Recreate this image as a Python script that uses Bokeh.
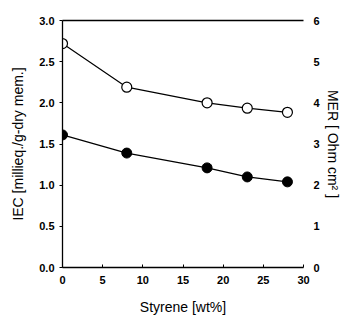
from bokeh.plotting import figure
from bokeh.models import LinearAxis, Range1d, FixedTicker, CustomJSTickFormatter
from bokeh.embed import file_html
from bokeh.resources import INLINE

styrene = [0, 8, 18, 23, 28]
iec = [1.61, 1.39, 1.21, 1.10, 1.04]
mer = [5.44, 4.38, 4.0, 3.87, 3.77]
x_ticks = [0, 5, 10, 15, 20, 25, 30]
iec_ticks = [0.0, 0.5, 1.0, 1.5, 2.0, 2.5, 3.0]
mer_ticks = [0, 1, 2, 3, 4, 5, 6]

FONT = "Liberation Sans"

p = figure(width=343, height=317, output_backend="svg", toolbar_location=None,
           x_range=Range1d(0, 30), y_range=Range1d(0, 3.0),
           min_border_left=62, min_border_right=38, min_border_top=20, min_border_bottom=49)
p.extra_y_ranges = {"mer": Range1d(0, 6)}
p.grid.visible = False
p.outline_line_color = None
p.background_fill_color = "white"
p.border_fill_color = "white"

# series
p.line(styrene, iec, line_color="black", line_width=1.2)
p.scatter(styrene, iec, size=10, fill_color="black", line_color="black")
p.line(styrene, mer, line_color="black", line_width=1.2, y_range_name="mer")
p.scatter(styrene, mer, size=10, fill_color="white", line_color="black", line_width=1.2, y_range_name="mer")

xa = p.xaxis[0]
xa.ticker = FixedTicker(ticks=x_ticks)
xa.axis_label = "Styrene [wt%]"
ya = p.yaxis[0]
ya.ticker = FixedTicker(ticks=iec_ticks)
ya.formatter = CustomJSTickFormatter(code="return tick.toFixed(1);")
ya.axis_label = "IEC [millieq./g-dry mem.]"

ra = LinearAxis(y_range_name="mer", ticker=FixedTicker(ticks=mer_ticks),
                axis_label="MER [ Ohm cm\u00b2 ]")
p.add_layout(ra, "right")

ta = LinearAxis(ticker=FixedTicker(ticks=[]))
ta.major_label_text_font_size = "0px"
p.add_layout(ta, "above")

for ax in [xa, ya, ra]:
    ax.major_label_text_font = FONT
    ax.major_label_text_font_style = "bold"
    ax.major_label_text_font_size = "11px"
    ax.major_label_text_color = "black"
    ax.axis_label_text_font = FONT
    ax.axis_label_text_font_style = "normal"
    ax.axis_label_text_font_size = "14px"
    ax.axis_label_text_color = "black"
    ax.minor_tick_line_color = None
    ax.axis_line_color = "black"
    ax.axis_line_width = 1.3
    ax.major_tick_line_color = "black"

xa.major_tick_in = 3
xa.major_tick_out = 0
xa.major_label_standoff = 8
xa.axis_label_standoff = 12
ya.major_tick_in = 0
ya.major_tick_out = 3
ya.axis_label_standoff = 10
ra.axis_line_color = None
ra.major_tick_line_color = None
ra.major_tick_in = 0
ra.major_tick_out = 0
ra.major_label_standoff = 10
ra.axis_label_standoff = 2
ta.axis_line_color = "black"
ta.axis_line_width = 1.3
ta.minor_tick_line_color = None
ta.major_tick_line_color = None
ta.major_tick_in = 0
ta.major_tick_out = 0

open("out.html", "w").write(file_html(p, INLINE))
